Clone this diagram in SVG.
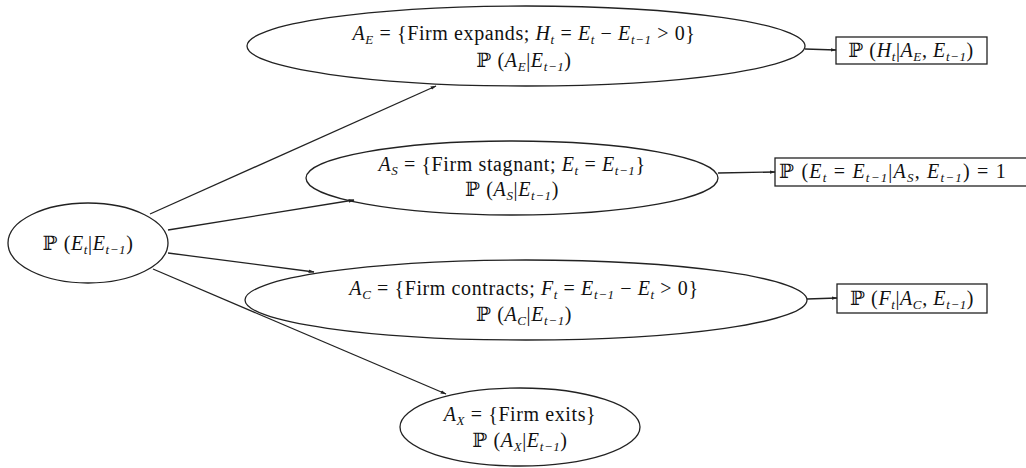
<svg xmlns="http://www.w3.org/2000/svg" width="1026" height="468" viewBox="0 0 1026 468">
<style>
text{font-family:"Liberation Serif","DejaVu Serif",serif;font-size:20px;fill:#111;text-anchor:middle;letter-spacing:0.6px}
.i{font-style:italic}
.s{font-size:13px;font-style:italic}
.n{fill:#fff;stroke:#222;stroke-width:1.3}
.b{fill:#fff;stroke:#222;stroke-width:1.3}
.c line{stroke:#222;stroke-width:1.3;marker-end:url(#ah)}
</style>
<defs>
<marker id="ah" viewBox="0 0 10 10" refX="9" refY="5" markerWidth="6" markerHeight="6" markerUnits="userSpaceOnUse" orient="auto">
<path d="M0,2 L10,5 L0,8 z" fill="#222"/>
</marker>
</defs>
<rect width="1026" height="468" fill="#fff"/>
<g id="root">
<ellipse class="n" cx="88" cy="243" rx="80" ry="40"/>
<text x="88" y="250">ℙ (<tspan class="i">E</tspan><tspan class="s" dy="4">t</tspan><tspan dy="-4">|</tspan><tspan class="i">E</tspan><tspan class="s" dy="4">t−1</tspan><tspan dy="-4">)</tspan></text>
</g>
<g id="expand">
<ellipse class="n" cx="526" cy="46" rx="279" ry="40"/>
<text x="524" y="40"><tspan class="i">A</tspan><tspan class="s" dy="4">E</tspan><tspan dy="-4"> = {Firm expands; </tspan><tspan class="i">H</tspan><tspan class="s" dy="4">t</tspan><tspan dy="-4"> = </tspan><tspan class="i">E</tspan><tspan class="s" dy="4">t</tspan><tspan dy="-4"> − </tspan><tspan class="i">E</tspan><tspan class="s" dy="4">t−1</tspan><tspan dy="-4"> &gt; 0}</tspan></text>
<text x="524" y="67">ℙ (<tspan class="i">A</tspan><tspan class="s" dy="4">E</tspan><tspan dy="-4">|</tspan><tspan class="i">E</tspan><tspan class="s" dy="4">t−1</tspan><tspan dy="-4">)</tspan></text>
</g>
<g id="stagnant">
<ellipse class="n" cx="512" cy="178" rx="206" ry="37"/>
<text x="512" y="171"><tspan class="i">A</tspan><tspan class="s" dy="4">S</tspan><tspan dy="-4"> = {Firm stagnant; </tspan><tspan class="i">E</tspan><tspan class="s" dy="4">t</tspan><tspan dy="-4"> = </tspan><tspan class="i">E</tspan><tspan class="s" dy="4">t−1</tspan><tspan dy="-4">}</tspan></text>
<text x="512" y="196">ℙ (<tspan class="i">A</tspan><tspan class="s" dy="4">S</tspan><tspan dy="-4">|</tspan><tspan class="i">E</tspan><tspan class="s" dy="4">t−1</tspan><tspan dy="-4">)</tspan></text>
</g>
<g id="contract">
<ellipse class="n" cx="526" cy="300" rx="281" ry="40"/>
<text x="524" y="295"><tspan class="i">A</tspan><tspan class="s" dy="4">C</tspan><tspan dy="-4"> = {Firm contracts; </tspan><tspan class="i">F</tspan><tspan class="s" dy="4">t</tspan><tspan dy="-4"> = </tspan><tspan class="i">E</tspan><tspan class="s" dy="4">t−1</tspan><tspan dy="-4"> − </tspan><tspan class="i">E</tspan><tspan class="s" dy="4">t</tspan><tspan dy="-4"> &gt; 0}</tspan></text>
<text x="524" y="321">ℙ (<tspan class="i">A</tspan><tspan class="s" dy="4">C</tspan><tspan dy="-4">|</tspan><tspan class="i">E</tspan><tspan class="s" dy="4">t−1</tspan><tspan dy="-4">)</tspan></text>
</g>
<g id="exit">
<ellipse class="n" cx="520" cy="427" rx="120" ry="39"/>
<text x="520" y="421"><tspan class="i">A</tspan><tspan class="s" dy="4">X</tspan><tspan dy="-4"> = {Firm exits}</tspan></text>
<text x="520" y="447">ℙ (<tspan class="i">A</tspan><tspan class="s" dy="4">X</tspan><tspan dy="-4">|</tspan><tspan class="i">E</tspan><tspan class="s" dy="4">t−1</tspan><tspan dy="-4">)</tspan></text>
</g>
<g id="boxE">
<rect class="b" x="836" y="37" width="151" height="27"/>
<text x="911" y="57">ℙ (<tspan class="i">H</tspan><tspan class="s" dy="4">t</tspan><tspan dy="-4">|</tspan><tspan class="i">A</tspan><tspan class="s" dy="4">E</tspan><tspan dy="-4">, </tspan><tspan class="i">E</tspan><tspan class="s" dy="4">t−1</tspan><tspan dy="-4">)</tspan></text>
</g>
<g id="boxS">
<rect class="b" x="775" y="158" width="260" height="28"/>
<text x="779" y="178" style="text-anchor:start;letter-spacing:1.2px">ℙ (<tspan class="i">E</tspan><tspan class="s" dy="4">t</tspan><tspan dy="-4"> = </tspan><tspan class="i">E</tspan><tspan class="s" dy="4">t−1</tspan><tspan dy="-4">|</tspan><tspan class="i">A</tspan><tspan class="s" dy="4">S</tspan><tspan dy="-4">, </tspan><tspan class="i">E</tspan><tspan class="s" dy="4">t−1</tspan><tspan dy="-4">) = 1</tspan></text>
</g>
<g id="boxC">
<rect class="b" x="837" y="284" width="150" height="29"/>
<text x="912" y="305">ℙ (<tspan class="i">F</tspan><tspan class="s" dy="4">t</tspan><tspan dy="-4">|</tspan><tspan class="i">A</tspan><tspan class="s" dy="4">C</tspan><tspan dy="-4">, </tspan><tspan class="i">E</tspan><tspan class="s" dy="4">t−1</tspan><tspan dy="-4">)</tspan></text>
</g>
<g id="connectors" class="c">
<line x1="150" y1="214" x2="436" y2="86"/>
<line x1="168" y1="230" x2="354" y2="200"/>
<line x1="168" y1="253" x2="314" y2="272"/>
<line x1="153" y1="269" x2="446" y2="394"/>
<line x1="805" y1="49" x2="836" y2="50"/>
<line x1="718" y1="173" x2="775" y2="172"/>
<line x1="807" y1="299" x2="837" y2="298"/>
</g>
</svg>
